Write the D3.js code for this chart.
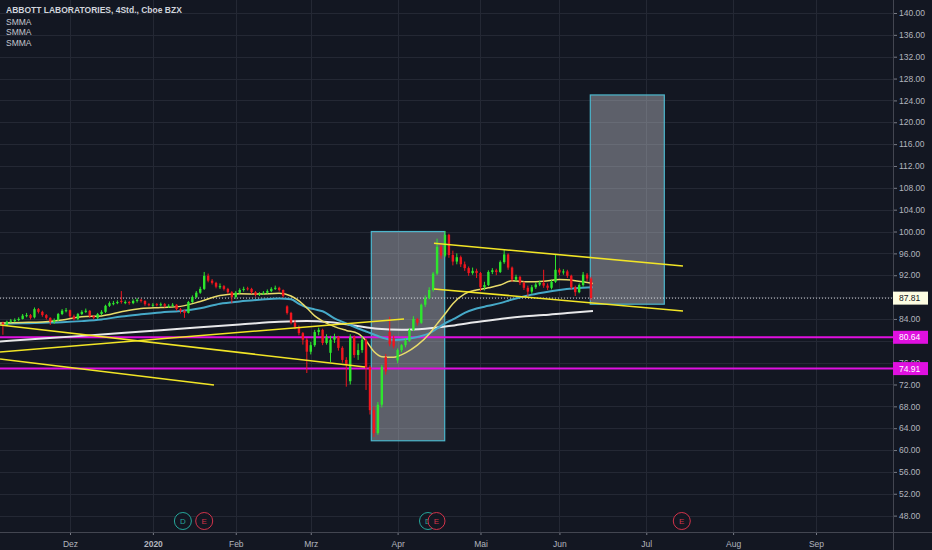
<!DOCTYPE html>
<html>
<head>
<meta charset="utf-8">
<script src="https://cdn.jsdelivr.net/npm/d3@7"></script>
<style>
  body { margin: 0; background: #131722; }
  svg { display: block; }
</style>
</head>
<body>
<div id="chart"></div>
<script>
// Size of the SVG and of the plot (right axis and bottom axis take the rest)
const width = 932;
const height = 550;
const plotW = 893;
const plotH = 532;

// x axis is a trading-day index, day 0 = first trading day of December 2019
const monthDays = [0, 21, 42, 61, 83, 104, 124, 146, 168, 189];
const monthLabels = ["Dez", "2020", "Feb", "Mrz", "Apr", "Mai", "Jun", "Jul", "Aug", "Sep"];

const priceTicks = d3.range(48, 141, 4);

// one candle per trading day [open, high, low, close], first candle at day -17
const firstDay = -17;
const candles = [
  [83.3, 83.5, 81.1, 82.9], [82.9, 83.7, 82.7, 83.5], [83.5, 84.0, 83.3, 83.7], [83.6, 84.1, 83.4, 83.8], [83.8, 84.3, 83.6, 84.0],
  [84.0, 84.9, 83.9, 84.6], [84.5, 85.1, 84.3, 84.7], [84.7, 84.9, 83.9, 84.2], [84.3, 86.1, 84.1, 85.8], [85.8, 86.0, 85.0, 85.3],
  [85.3, 85.5, 84.4, 84.7], [84.7, 84.9, 83.9, 84.2], [84.2, 84.3, 82.9, 83.5], [83.5, 84.1, 83.1, 83.8], [83.8, 85.1, 83.6, 84.9],
  [84.9, 85.8, 84.7, 85.5], [85.5, 86.0, 85.2, 85.6],
  // Dez
  [85.6, 85.7, 84.2, 84.5], [84.5, 84.8, 83.7, 84.0], [84.0, 85.1, 83.8, 84.9], [84.9, 85.6, 84.7, 85.3], [85.3, 85.9, 85.1, 85.5],
  [85.5, 85.6, 84.2, 84.5], [84.5, 84.7, 83.9, 84.2], [84.2, 85.1, 84.0, 84.9], [84.9, 85.6, 84.7, 85.3], [85.3, 86.6, 85.1, 86.4],
  [86.4, 87.2, 86.2, 86.9], [86.7, 87.3, 86.5, 86.9], [86.9, 87.4, 86.7, 87.1], [87.3, 89.1, 86.8, 87.1], [86.9, 87.4, 86.7, 87.1],
  [87.1, 87.3, 86.6, 86.9], [86.9, 87.6, 86.7, 87.3], [87.3, 87.8, 87.0, 87.5], [87.5, 87.7, 87.0, 87.3], [87.3, 87.4, 86.4, 86.7],
  [86.7, 86.9, 86.3, 86.6],
  // Jan
  [86.5, 86.9, 86.2, 86.6], [86.7, 86.9, 86.3, 86.6], [86.5, 87.0, 86.3, 86.7], [86.7, 86.9, 86.1, 86.4], [86.3, 86.7, 86.0, 86.4],
  [86.4, 86.9, 86.2, 86.6], [86.6, 86.7, 85.5, 85.8], [85.8, 86.0, 85.0, 85.5], [85.5, 85.7, 84.2, 85.1], [85.1, 87.3, 85.0, 87.1],
  [87.1, 88.3, 86.9, 88.0], [88.0, 89.1, 87.8, 88.8], [88.8, 89.9, 88.6, 89.5], [89.5, 92.6, 89.3, 91.9], [91.9, 92.3, 90.7, 91.0],
  [91.0, 91.3, 90.3, 90.6], [90.6, 90.8, 89.6, 89.9], [89.8, 90.5, 89.5, 90.0], [90.0, 90.2, 89.2, 89.5], [89.5, 89.7, 88.6, 88.9],
  [88.9, 89.1, 86.9, 88.0],
  // Feb
  [88.0, 89.1, 87.7, 88.8], [88.8, 89.6, 88.6, 89.3], [89.3, 89.9, 89.0, 89.5], [89.6, 89.9, 89.2, 89.5], [89.5, 89.7, 88.6, 88.9],
  [88.9, 89.1, 88.1, 88.4], [88.4, 88.9, 88.2, 88.6], [88.6, 89.1, 88.4, 88.8], [88.8, 89.4, 88.6, 89.1], [89.1, 89.8, 88.9, 89.5],
  [89.5, 90.1, 89.3, 89.7], [89.7, 89.9, 89.0, 89.3], [89.3, 89.4, 87.9, 88.2], [86.3, 86.5, 84.8, 85.1], [85.1, 85.3, 83.0, 83.3],
  [83.3, 83.8, 82.1, 82.5], [82.5, 82.8, 81.0, 81.4], [81.4, 81.6, 79.3, 80.2], [80.2, 80.5, 74.1, 78.0],
  // Mrz
  [78.0, 79.8, 77.5, 79.2], [79.2, 82.0, 78.9, 81.6], [81.6, 82.4, 81.0, 82.0], [82.0, 82.2, 79.2, 79.6], [79.6, 81.2, 79.3, 80.7],
  [77.8, 80.9, 76.1, 80.2], [80.2, 81.3, 79.6, 80.7], [80.7, 80.9, 78.2, 78.7], [78.7, 79.0, 76.0, 76.5], [76.5, 77.0, 71.6, 75.6],
  [72.6, 81.2, 72.0, 80.7], [80.7, 81.0, 76.9, 77.4], [77.4, 79.5, 76.5, 78.3], [78.3, 80.8, 77.8, 80.2], [80.2, 80.4, 71.0, 75.2],
  [75.2, 75.5, 66.5, 67.3], [67.3, 68.0, 62.4, 63.1], [63.1, 68.8, 62.8, 68.3], [68.3, 75.6, 67.8, 75.2], [77.0, 77.6, 73.8, 74.4],
  [81.6, 84.4, 79.0, 79.4], [80.4, 81.0, 78.6, 79.0],
  // Apr
  [76.4, 78.6, 75.9, 78.3], [78.3, 79.4, 77.9, 79.2], [79.2, 80.5, 78.8, 80.0], [80.0, 82.3, 79.8, 82.0], [82.0, 84.5, 81.8, 84.0],
  [84.0, 84.2, 82.8, 83.3], [83.3, 86.8, 83.1, 86.6], [86.6, 88.3, 86.2, 87.8], [87.8, 89.8, 87.6, 89.3], [89.3, 92.6, 89.0, 92.3],
  [92.3, 98.7, 92.0, 97.2], [97.2, 97.6, 95.0, 95.6], [95.6, 100.1, 95.3, 99.4], [99.4, 99.6, 95.2, 95.7], [95.7, 96.5, 93.8, 94.5],
  [94.5, 96.0, 94.0, 95.3], [95.3, 95.6, 93.5, 94.0], [94.0, 94.5, 92.8, 93.3], [93.3, 93.6, 91.9, 92.4], [92.4, 93.4, 92.1, 92.8],
  [92.8, 93.2, 91.5, 92.4],
  // Mai
  [92.4, 92.6, 89.1, 89.8], [89.8, 90.8, 89.2, 90.2], [90.2, 92.9, 90.0, 92.6], [92.6, 93.3, 92.2, 92.9], [92.9, 93.2, 92.0, 92.6],
  [92.6, 94.7, 92.4, 94.4], [94.4, 96.7, 94.1, 95.8], [95.8, 96.0, 93.0, 93.4], [93.4, 93.6, 90.8, 91.2], [91.2, 92.1, 90.9, 91.7],
  [91.7, 91.9, 90.2, 90.6], [90.6, 90.9, 89.3, 89.7], [89.7, 90.1, 88.2, 89.0], [89.0, 90.2, 88.6, 89.8], [89.8, 90.7, 89.5, 90.3],
  [90.3, 91.0, 90.0, 90.6], [90.6, 93.0, 89.7, 90.1], [90.1, 90.5, 89.3, 89.7], [89.7, 91.2, 89.4, 90.8], [90.8, 95.7, 90.6, 93.0],
  // Jun
  [93.0, 93.3, 92.0, 92.5], [92.5, 93.1, 92.1, 92.7], [92.7, 93.0, 91.5, 91.9], [91.9, 92.1, 89.4, 89.8], [89.8, 90.1, 88.2, 88.9],
  [88.9, 90.5, 88.7, 90.2], [90.2, 92.6, 89.9, 92.1], [92.1, 92.4, 90.9, 91.4], [91.4, 91.7, 87.4, 87.81]
];

// SMMA lines
const smmaDays = [-18, -12, -7, -2, 3, 8, 13, 18, 23, 28, 33, 38, 43, 48, 53, 56, 58, 60, 62, 64,
  67, 70, 73, 75, 77, 79, 82, 85, 88, 91, 93, 95, 97, 100, 103, 106, 109, 112, 116, 120, 124, 128, 132.5];
const smmaFast = [83.27, 83.36, 83.45, 83.8, 84.4, 84.55, 85.3, 85.9, 86.1, 86.3, 87.2, 88.3, 88.6, 88.55, 88.7, 88.2, 87.3, 86.0, 84.55, 83.6,
  82.6, 81.9, 81.3, 80.0, 78.05, 77.1, 77.0, 77.8, 79.2, 81.25, 83.1, 84.9, 86.8, 88.6, 89.3, 89.7, 90.2, 91.0, 90.8, 90.9, 91.2, 91.0, 90.5];
const smmaMid = [83.1, 83.2, 83.3, 83.4, 83.6, 83.9, 84.45, 84.85, 85.2, 85.45, 85.95, 86.8, 87.2, 87.5, 87.75, 87.6, 86.75, 86.1, 85.75, 85.4,
  84.1, 83.2, 82.25, 81.7, 81.15, 80.6, 80.15, 80.3, 80.7, 81.35, 82.25, 83.2, 83.9, 85.1, 85.9, 86.4, 86.9, 87.55, 88.3, 88.85, 89.3, 89.6, 89.8];
const slowDays = [-18, -7, 3, 13, 23, 33, 43, 53, 60, 66, 72, 78, 84, 90, 96, 102, 108, 114, 120, 126, 132.5];
const smmaSlow = [79.86, 80.4, 80.9, 81.43, 81.95, 82.46, 82.97, 83.48, 83.63, 83.39, 82.8, 82.2, 82.0, 82.2, 82.7, 83.35, 83.9, 84.4, 84.7, 85.1, 85.45];

// drawings: trend lines [day1, price1, day2, price2], boxes [day1, top, day2, bottom]
const trendLines = [
  [-17.73, 82.9, 74.74, 75.21],
  [-17.73, 76.67, 36.48, 71.92],
  [-17.73, 77.96, 84.62, 84.0],
  [92.22, 97.85, 155.3, 93.7],
  [92.22, 89.49, 155.3, 85.46]
];
const boxes = [
  [76.34, 100.0, 94.93, 61.7],
  [131.82, 125.0, 150.57, 86.7]
];
const levels = [80.64, 74.91];
const lastPrice = 87.81;

// dividends / earnings markers
const eventDays = [28.6, 34.0, 90.7, 92.85, 155.0];
const eventLetters = ["D", "E", "D", "E", "E"];

const font = "'Liberation Sans', Arial, sans-serif";

const svg = d3.select("#chart")
  .append("svg")
  .attr("width", width)
  .attr("height", height)
  .style("background", "#131722");

const x = d3.scaleLinear().domain([-17.735, 208.51]).range([0, plotW]);
const y = d3.scaleLinear().domain([45.0, 142.38]).range([plotH, 0]);

svg.append("clipPath").attr("id", "plot")
  .append("rect").attr("width", plotW).attr("height", plotH);

// grid
const grid = svg.append("g").attr("clip-path", "url(#plot)");
grid.selectAll(".hg").data(priceTicks).enter().append("line")
  .attr("x1", 0).attr("x2", plotW)
  .attr("y1", d => Math.round(y(d)) + 0.5).attr("y2", d => Math.round(y(d)) + 0.5)
  .attr("stroke", "#242834");
grid.selectAll(".vg").data(monthDays).enter().append("line")
  .attr("y1", 0).attr("y2", plotH)
  .attr("x1", d => Math.round(x(d)) + 0.5).attr("x2", d => Math.round(x(d)) + 0.5)
  .attr("stroke", "#242834");

const plot = svg.append("g").attr("clip-path", "url(#plot)");

// boxes
plot.selectAll(".box").data(boxes).enter().append("rect")
  .attr("x", d => x(d[0]))
  .attr("y", d => y(d[1]))
  .attr("width", d => x(d[2]) - x(d[0]))
  .attr("height", d => y(d[3]) - y(d[1]))
  .attr("fill", "rgba(205,207,214,0.4)")
  .attr("stroke", "#4cb6cc")
  .attr("stroke-width", 1.2);

// horizontal levels
plot.selectAll(".lvl").data(levels).enter().append("line")
  .attr("x1", 0).attr("x2", plotW)
  .attr("y1", d => y(d)).attr("y2", d => y(d))
  .attr("stroke", "#e010e0")
  .attr("stroke-width", 2);

// last price dotted line
plot.append("line")
  .attr("x1", 0).attr("x2", plotW)
  .attr("y1", y(lastPrice)).attr("y2", y(lastPrice))
  .attr("stroke", "#d4d6dc")
  .attr("stroke-width", 1)
  .attr("stroke-dasharray", "1,2");

// SMMA lines
const line = d3.line().curve(d3.curveMonotoneX);
const smmas = [
  { days: slowDays, vals: smmaSlow, color: "#e8e8ea", w: 2 },
  { days: smmaDays, vals: smmaMid, color: "#46a9c8", w: 2 },
  { days: smmaDays, vals: smmaFast, color: "#e9dc6a", w: 1.5 }
];
plot.selectAll(".smma").data(smmas).enter().append("path")
  .attr("d", s => line(s.days.map((d, i) => [x(d), y(s.vals[i])])))
  .attr("fill", "none")
  .attr("stroke", s => s.color)
  .attr("stroke-width", s => s.w);

// candles
const up = "#2ee62e", down = "#f0161e";
const bw = 2.4;
const candle = plot.selectAll(".candle").data(candles).enter().append("g");
candle.append("line")
  .attr("x1", (d, i) => x(firstDay + i)).attr("x2", (d, i) => x(firstDay + i))
  .attr("y1", d => y(d[1])).attr("y2", d => y(d[2]))
  .attr("stroke", d => d[3] >= d[0] ? up : down)
  .attr("stroke-width", 1);
candle.append("rect")
  .attr("x", (d, i) => x(firstDay + i) - bw / 2)
  .attr("y", d => y(Math.max(d[0], d[3])))
  .attr("width", bw)
  .attr("height", d => Math.max(1, Math.abs(y(d[0]) - y(d[3]))))
  .attr("fill", d => d[3] >= d[0] ? up : down);

// trend lines
plot.selectAll(".trend").data(trendLines).enter().append("line")
  .attr("x1", d => x(d[0])).attr("y1", d => y(d[1]))
  .attr("x2", d => x(d[2])).attr("y2", d => y(d[3]))
  .attr("stroke", "#f2e526")
  .attr("stroke-width", 1.6);

// event markers
const ev = svg.selectAll(".ev").data(eventDays).enter().append("g")
  .attr("transform", d => `translate(${x(d)},521)`);
ev.append("circle")
  .attr("r", 8.5)
  .attr("fill", "#131722")
  .attr("stroke", (d, i) => eventLetters[i] === "D" ? "#26a69a" : "#d2334a")
  .attr("stroke-width", 1);
ev.append("text")
  .attr("text-anchor", "middle")
  .attr("dy", "0.35em")
  .attr("fill", (d, i) => eventLetters[i] === "D" ? "#26a69a" : "#d2334a")
  .style("font", `8px ${font}`)
  .text((d, i) => eventLetters[i]);

// axes
const yAxis = d3.axisRight(y)
  .tickValues(priceTicks)
  .tickSize(4)
  .tickSizeOuter(0)
  .tickPadding(2)
  .tickFormat(d => d === 80 ? "" : d3.format(".2f")(d)); // 80.00 sits fully under the 80.64 tag
svg.append("g")
  .attr("transform", `translate(${plotW},0)`)
  .call(yAxis)
  .call(g => g.select(".domain").remove())
  .call(g => g.selectAll(".tick line").attr("stroke", "#787b86"))
  .call(g => g.selectAll(".tick text").attr("fill", "#b2b5be").style("font", `8.5px ${font}`));

const xAxis = d3.axisBottom(x)
  .tickValues(monthDays)
  .tickSize(3)
  .tickSizeOuter(0)
  .tickPadding(6)
  .tickFormat((d, i) => monthLabels[i]);
svg.append("g")
  .attr("transform", `translate(0,${plotH})`)
  .call(xAxis)
  .call(g => g.select(".domain").remove())
  .call(g => g.selectAll(".tick line").attr("stroke", "#787b86"))
  .call(g => g.selectAll(".tick text").attr("fill", "#b2b5be")
    .style("font", `8.5px ${font}`)
    .style("font-weight", (d, i) => monthLabels[i] === "2020" ? "bold" : "normal"));

svg.append("line").attr("x1", 0).attr("x2", width).attr("y1", plotH + 0.5).attr("y2", plotH + 0.5).attr("stroke", "#434651");
svg.append("line").attr("x1", plotW + 0.5).attr("x2", plotW + 0.5).attr("y1", 0).attr("y2", height).attr("stroke", "#434651");

// price labels on the right axis
const tags = [
  { p: lastPrice, bg: "#fdfde2", fg: "#131722" },
  { p: levels[0], bg: "#e010e0", fg: "#ffffff" },
  { p: levels[1], bg: "#e010e0", fg: "#ffffff" }
];
const tag = svg.selectAll(".tag").data(tags).enter().append("g")
  .attr("transform", d => `translate(${plotW},${y(d.p)})`);
tag.append("rect")
  .attr("x", 0).attr("y", -6.5)
  .attr("width", 35).attr("height", 13)
  .attr("fill", d => d.bg);
tag.append("text")
  .attr("x", 6).attr("dy", "0.35em")
  .attr("fill", d => d.fg)
  .style("font", `8.5px ${font}`)
  .text(d => d.p.toFixed(2));

// legend text
svg.append("text")
  .attr("x", 6).attr("y", 13)
  .attr("fill", "#d1d4dc")
  .style("font", `bold 8.5px ${font}`)
  .text("ABBOTT LABORATORIES, 4Std., Cboe BZX");
svg.selectAll(".lg").data([24.5, 35, 45.5]).enter().append("text")
  .attr("x", 6).attr("y", d => d)
  .attr("fill", "#c3c6ce")
  .style("font", `8.5px ${font}`)
  .text("SMMA");
</script>
</body>
</html>
